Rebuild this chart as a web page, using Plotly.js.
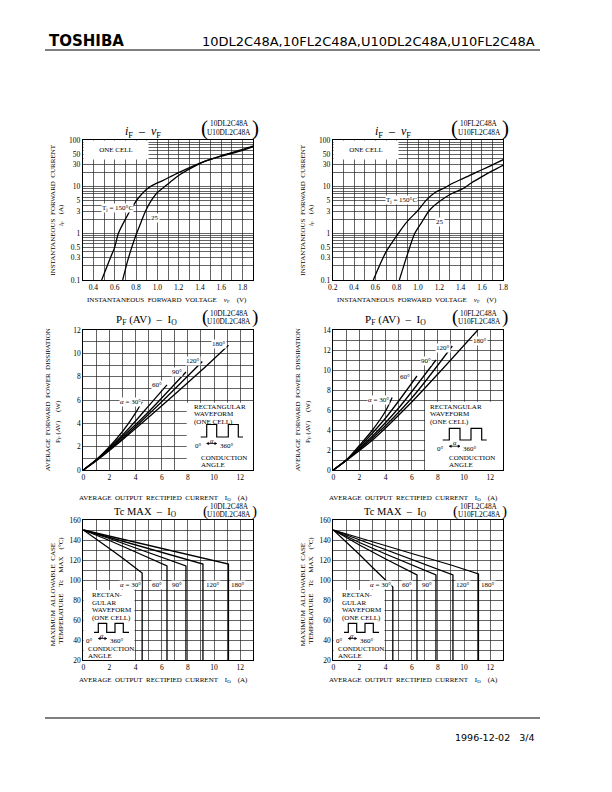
<!DOCTYPE html>
<html><head><meta charset="utf-8">
<script src="https://cdn.plot.ly/plotly-3.0.1.min.js"></script>
<style>html,body{margin:0;padding:0;background:#fff}#chart{width:612px;height:792px}</style>
</head><body><div id="chart"></div>
<script>
// ---------- DATA ----------
// iF - vF, 10DL2C48A
const vf_dl_150 = [0.478, 0.56, 0.60, 0.635, 0.70, 0.76, 0.83, 0.90, 0.95, 1.05, 1.20, 1.40, 1.60, 1.80, 1.90];
const if_dl_150 = [0.1, 0.3, 0.5, 1, 2, 3.5, 6, 8.8, 10.5, 13.5, 20, 32, 45, 60, 72];
const vf_dl_25 = [0.675, 0.72, 0.76, 0.806, 0.85, 0.894, 0.947, 1.0, 1.056, 1.12, 1.21, 1.37, 1.46, 1.60, 1.80, 1.90];
const if_dl_25 = [0.1, 0.25, 0.5, 1, 1.8, 3.16, 5.2, 7.5, 9.5, 12.5, 18, 29, 36, 46, 63, 75];
// iF - vF, 10FL2C48A
const vf_fl_150 = [0.581, 0.70, 0.816, 0.90, 1.003, 1.08, 1.16, 1.24, 1.33, 1.425, 1.55, 1.68, 1.80];
const if_fl_150 = [0.1, 0.4, 1, 1.8, 3.16, 5.2, 7.5, 9.2, 12, 15, 20.5, 28, 38];
const vf_fl_25 = [0.825, 0.90, 0.97, 1.04, 1.11, 1.20, 1.30, 1.425, 1.50, 1.60, 1.70, 1.80];
const if_fl_25 = [0.1, 0.35, 1, 1.8, 3.16, 4.8, 6.8, 9.2, 12, 16.4, 22, 29];
const logTickVals = [0.1,0.2,0.3,0.4,0.5,0.6,0.7,0.8,0.9,1,2,3,4,5,6,7,8,9,10,20,30,40,50,60,70,80,90,100];
const logTickText = ['0.1','','0.3','','0.5','','','','','1','','3','','5','','','','','10','','30','','50','','','','','100'];

// PF(AV) - IO, 10DL2C48A
const io_dl_30 = [0, 1, 2, 3, 4, 4.5];        const pf_dl_30 = [0, 0.9, 2.0, 3.3, 4.9, 5.85];
const io_dl_60 = [0, 1, 2, 3, 4, 5, 6.4];     const pf_dl_60 = [0, 0.85, 1.9, 3.0, 4.2, 5.5, 7.3];
const io_dl_90 = [0, 1, 3, 5, 7.85];          const pf_dl_90 = [0, 0.85, 2.85, 5.0, 8.4];
const io_dl_120 = [0, 1, 3, 6, 9.1];          const pf_dl_120 = [0, 0.85, 2.7, 5.85, 9.3];
const io_dl_180 = [0, 1, 3, 6, 9, 11.1];      const pf_dl_180 = [0, 0.8, 2.6, 5.5, 8.5, 10.7];
// PF(AV) - IO, 10FL2C48A
const io_fl_30 = [0, 1, 2, 3, 4, 4.5];        const pf_fl_30 = [0, 1.0, 2.45, 4.0, 5.9, 7.25];
const io_fl_60 = [0, 1, 2, 3, 4, 5, 6.4];     const pf_fl_60 = [0, 1.0, 2.3, 3.7, 5.2, 6.9, 9.4];
const io_fl_90 = [0, 1, 3, 5, 7.85];          const pf_fl_90 = [0, 1.0, 3.4, 6.2, 11.0];
const io_fl_120 = [0, 1, 3, 6, 9.1];          const pf_fl_120 = [0, 1.0, 3.2, 7.2, 12.4];
const io_fl_180 = [0, 1, 3, 6, 8, 11.05];     const pf_fl_180 = [0, 0.95, 3.0, 6.8, 9.6, 14.0];

// Tc MAX - IO, 10DL2C48A
const tio_dl_30 = [0, 1, 2, 3, 4, 4.5, 4.5];   const tc_dl_30 = [150, 141, 131.5, 122, 112, 107, 20];
const tio_dl_60 = [0, 2, 4, 6.4, 6.4];         const tc_dl_60 = [150, 139.5, 128, 114, 20];
const tio_dl_90 = [0, 2, 4, 6, 7.85, 7.85];    const tc_dl_90 = [150, 141.5, 132, 123, 114, 20];
const tio_dl_120 = [0, 3, 6, 9.15, 9.15];      const tc_dl_120 = [150, 139, 128, 116, 20];
const tio_dl_180 = [0, 3, 6, 9, 11.1, 11.1];   const tc_dl_180 = [150, 141, 132, 123, 116, 20];
// Tc MAX - IO, 10FL2C48A
const tio_fl_30 = [0, 1, 2, 3, 4, 4.55, 4.55]; const tc_fl_30 = [150, 138, 125.5, 112.5, 99.5, 93, 20];
const tio_fl_60 = [0, 2, 4, 6.4, 6.4];         const tc_fl_60 = [150, 135, 121, 105, 20];
const tio_fl_90 = [0, 2, 4, 6, 7.85, 7.85];    const tc_fl_90 = [150, 137.5, 126, 115, 105, 20];
const tio_fl_120 = [0, 3, 6, 9.15, 9.15];      const tc_fl_120 = [150, 135.5, 121, 105, 20];
const tio_fl_180 = [0, 3, 6, 9, 11.1, 11.1];   const tc_fl_180 = [150, 138, 126.5, 115, 106, 20];

const angleLabels = ['<i>α</i> = 30°', '60°', '90°', '120°', '180°'];

// ---------- LAYOUT HELPERS ----------
const W = 612, H = 792;
const SERIF = 'Liberation Serif, DejaVu Serif, serif';
const SANS = 'DejaVu Sans, Verdana, sans-serif';
const px = x => x / W, py = y => 1 - y / H;

const rects = [
  {L:82.7, R:253.3, T:140, B:280},
  {L:332.7, R:503.3, T:140, B:280},
  {L:83.3, R:253.3, T:330, B:470},
  {L:333.3, R:503.3, T:330, B:470},
  {L:83.3, R:253.3, T:520, B:660},
  {L:333.3, R:503.3, T:520, B:660}
];
const GRID = '#222';
function axis(i, isX, o) {
  const r = rects[i];
  const base = {
    domain: isX ? [px(r.L), px(r.R)] : [py(r.B), py(r.T)],
    anchor: (isX ? 'y' : 'x') + (i === 0 ? '' : (i + 1)),
    showline: true, linecolor: '#000', linewidth: 1, mirror: true,
    ticks: '', showgrid: true, gridcolor: GRID, gridwidth: 0.7, zeroline: false,
    tickfont: {family: SERIF, size: 7.5, color: '#000'}, fixedrange: true
  };
  return Object.assign(base, o);
}
const minorGrid = d => ({dtick: d, showgrid: true, gridcolor: GRID, gridwidth: 0.7, ticks: ''});

const layout = {
  width: W, height: H, margin: {l:0, r:0, t:0, b:0},
  paper_bgcolor: '#fff', plot_bgcolor: '#fff', showlegend: false,
  xaxis: axis(0, true, {range:[0.3,1.9], tick0:0.4, dtick:0.2, tickformat:'.1f', minor: minorGrid(0.1)}),
  yaxis: axis(0, false, {type:'log', range:[-1,2], tickmode:'array', tickvals: logTickVals, ticktext: logTickText}),
  xaxis2: axis(1, true, {range:[0.2,1.8], tick0:0.2, dtick:0.2, tickformat:'.1f', minor: minorGrid(0.1)}),
  yaxis2: axis(1, false, {type:'log', range:[-1,2], tickmode:'array', tickvals: logTickVals, ticktext: logTickText}),
  xaxis3: axis(2, true, {range:[0,13], tick0:0, dtick:2, minor: minorGrid(1)}),
  yaxis3: axis(2, false, {range:[0,12], tick0:0, dtick:2, minor: minorGrid(1)}),
  xaxis4: axis(3, true, {range:[0,13], tick0:0, dtick:2, minor: minorGrid(1)}),
  yaxis4: axis(3, false, {range:[0,14], tick0:0, dtick:2, minor: minorGrid(1)}),
  xaxis5: axis(4, true, {range:[0,13], tick0:0, dtick:2, minor: minorGrid(1)}),
  yaxis5: axis(4, false, {range:[20,160], tick0:20, dtick:20, minor: minorGrid(10)}),
  xaxis6: axis(5, true, {range:[0,13], tick0:0, dtick:2, minor: minorGrid(1)}),
  yaxis6: axis(5, false, {range:[20,160], tick0:20, dtick:20, minor: minorGrid(10)}),
  shapes: [], annotations: []
};

// ---------- TRACES ----------
const traces = [];
function addLine(i, xs, ys, smooth) {
  const s = i === 0 ? '' : String(i + 1);
  traces.push({x: xs, y: ys, xaxis: 'x' + s, yaxis: 'y' + s, mode: 'lines', hoverinfo: 'skip',
    line: {color: '#000', width: 1.3, shape: smooth ? 'spline' : 'linear', smoothing: 0.8}});
}
addLine(0, vf_dl_150, if_dl_150, true); addLine(0, vf_dl_25, if_dl_25, true);
addLine(1, vf_fl_150, if_fl_150, true); addLine(1, vf_fl_25, if_fl_25, true);
addLine(2, io_dl_30, pf_dl_30, true); addLine(2, io_dl_60, pf_dl_60, true); addLine(2, io_dl_90, pf_dl_90, true);
addLine(2, io_dl_120, pf_dl_120, true); addLine(2, io_dl_180, pf_dl_180, true);
addLine(3, io_fl_30, pf_fl_30, true); addLine(3, io_fl_60, pf_fl_60, true); addLine(3, io_fl_90, pf_fl_90, true);
addLine(3, io_fl_120, pf_fl_120, true); addLine(3, io_fl_180, pf_fl_180, true);
addLine(4, tio_dl_30, tc_dl_30, false); addLine(4, tio_dl_60, tc_dl_60, false); addLine(4, tio_dl_90, tc_dl_90, false);
addLine(4, tio_dl_120, tc_dl_120, false); addLine(4, tio_dl_180, tc_dl_180, false);
addLine(5, tio_fl_30, tc_fl_30, false); addLine(5, tio_fl_60, tc_fl_60, false); addLine(5, tio_fl_90, tc_fl_90, false);
addLine(5, tio_fl_120, tc_fl_120, false); addLine(5, tio_fl_180, tc_fl_180, false);

// ---------- DECORATION ----------
const A = layout.annotations, S = layout.shapes;
function T(x, y, text, o) {
  A.push(Object.assign({xref:'paper', yref:'paper', x: px(x), y: py(y), text: text, showarrow: false,
    font: {family: SERIF, size: 7, color: '#000'}, xanchor: 'center', yanchor: 'middle'}, o || {}));
}
// white panel over the grid (linear subplots), pixel box -> data coordinates
function whiteBox(i, x0, x1, y0, y1) {
  const r = rects[i], s = i === 0 ? '' : String(i + 1);
  const xa = layout['xaxis' + s], ya = layout['yaxis' + s];
  const fx = v => xa.range[0] + (v - r.L) / (r.R - r.L) * (xa.range[1] - xa.range[0]);
  const fy = v => ya.range[0] + (r.B - v) / (r.B - r.T) * (ya.range[1] - ya.range[0]);
  S.push({type:'rect', layer:'between', xref:'x' + s, yref:'y' + s,
    x0: fx(x0), x1: fx(x1), y0: fy(y1), y1: fy(y0),
    fillcolor: '#fff', line: {width: 0}});
}
function pathP(pts) { return 'M' + pts.map(p => px(p[0]) + ',' + py(p[1])).join('L'); }
function P(pts, o) { S.push(Object.assign({type:'path', xref:'paper', yref:'paper', layer:'above', path: pathP(pts), line:{color:'#000', width:1}}, o || {})); }
function waveform(x0, xr1, xf1, xr2, xf2, xe, yb, yt, labY) {
  P([[x0,yb],[xr1,yb],[xr1,yt],[xf1,yt],[xf1,yb],[xr2,yb],[xr2,yt],[xf2,yt],[xf2,yb],[xe,yb]], {line:{color:'#000', width:1.2}});
  const ay = labY - 1.5;
  P([[xr1, ay], [xf1, ay]], {line:{color:'#000', width:0.8}});
  P([[xr1, ay], [xr1 + 2, ay - 1.2], [xr1 + 2, ay + 1.2], [xr1, ay]], {fillcolor:'#000', line:{color:'#000', width:0.5}});
  P([[xf1, ay], [xf1 - 2, ay - 1.2], [xf1 - 2, ay + 1.2], [xf1, ay]], {fillcolor:'#000', line:{color:'#000', width:0.5}});
  T((xr1 + xf1) / 2, ay - 3.5, '<i>α</i>', {font:{family:SERIF, size:6.5, color:'#000'}});
  T(xr1 - 3, labY + 1, '0°', {xanchor:'right', font:{family:SERIF, size:7, color:'#000'}});
  T(xf1 + 1, labY + 1, '360°', {xanchor:'left', font:{family:SERIF, size:7, color:'#000'}});
}
function partLabel(cx, y1, y2, l1, l2, pl, pr, pyc, psz) {
  T(cx, y1, l1, {font:{family:SERIF, size:7.3, color:'#000'}});
  T(cx, y2, l2, {font:{family:SERIF, size:7.3, color:'#000'}});
  T(pl, pyc, '(', {font:{family:SERIF, size:psz, color:'#000'}});
  T(pr, pyc, ')', {font:{family:SERIF, size:psz, color:'#000'}});
}

// header / footer
T(47, 41, '<b>TOSHIBA</b>', {xanchor:'left', font:{family:'DejaVu Sans, sans-serif', size:15, color:'#000'}});
T(537, 41, '10DL2C48A,10FL2C48A,U10DL2C48A,U10FL2C48A', {xanchor:'right', font:{family:SANS, size:13, color:'#000'}});
S.push({type:'line', xref:'paper', yref:'paper', x0:px(45), x1:px(540), y0:py(50), y1:py(50), line:{color:'#000', width:1.2}});
S.push({type:'line', xref:'paper', yref:'paper', x0:px(45), x1:px(540), y0:py(718), y1:py(718), line:{color:'#000', width:1.2}});
T(537, 737, '1996-12-02   3/4', {xanchor:'right', font:{family:SANS, size:9.5, color:'#000'}});

// per-column decorations
const names = [['10DL2C48A','U10DL2C48A'], ['10FL2C48A','U10FL2C48A']];
[0, 1].forEach(c => {
  const ox = c * 250, n = names[c];
  // ---- iF - vF ----
  T(143.3 + ox, 131.5, '<i>i</i><sub>F</sub>  –  <i>v</i><sub>F</sub>', {font:{family:SERIF, size:12, color:'#000'}});
  partLabel(229.2 + ox, 123.3, 132.5, n[0], n[1], 204 + ox, 255 + ox, 128, 21);
  T(rects[c].L, 140, 'ONE CELL', {xanchor:'left', yanchor:'top', width: 146.7 - 82.7, height: 18,
    bgcolor:'#fff', borderpad:0, align:'center', valign:'middle'});
  T(52.7 + ox, 210, 'INSTANTANEOUS  FORWARD  CURRENT', {textangle:-90});
  T(61 + ox, 215, '<i>i</i><sub>F</sub>    (A)', {textangle:-90});
  T(166.7 + ox, 300, 'INSTANTANEOUS  FORWARD  VOLTAGE    <i>v</i><sub>F</sub>    (V)');
  // ---- PF - IO ----
  T((c ? 395 : 146.7), 320, 'P<sub>F</sub> (AV)  –  I<sub>O</sub>', {font:{family:SERIF, size:11, color:'#000'}});
  partLabel(229.2 + ox, 313.3, 321.5, n[0], n[1], 205 + ox, 255 + ox, 317, 19);
  T(48.3 + ox, 400, 'AVERAGE  FORWARD  POWER  DISSIPATION', {textangle:-90});
  T(58 + ox, 422, 'P<sub>F</sub> (AV)     (W)', {textangle:-90});
  T(163.3 + ox, 497.7, 'AVERAGE  OUTPUT  RECTIFIED  CURRENT    I<sub>O</sub>    (A)');
  // ---- Tc - IO ----
  T(145 + ox, 512.7, 'Tc MAX  –  I<sub>O</sub>', {font:{family:SERIF, size:10.5, color:'#000'}});
  partLabel(229.2 + ox, 506.3, 514.5, n[0], n[1], 205.5 + ox, 254.5 + ox, 511, 15);
  T(53.3 + ox, 595, 'MAXIMUM  ALLOWABLE  CASE', {textangle:-90});
  T(60.7 + ox, 590, 'TEMPERATURE    Tc    MAX    (°C)', {textangle:-90});
  T(163.3 + ox, 680, 'AVERAGE  OUTPUT  RECTIFIED  CURRENT    I<sub>O</sub>    (A)');
  whiteBox(4 + c, rects[4 + c].L, 134.5 + ox, 590, 660);
  T(90 + ox, 595, 'RECTAN-', {xanchor:'left'});
  T(90 + ox, 602.7, 'GULAR', {xanchor:'left'});
  T(90 + ox, 610, 'WAVEFORM', {xanchor:'left'});
  T(90 + ox, 617.7, '(ONE CELL)', {xanchor:'left'});
  waveform(94 + ox, 98.3 + ox, 106.7 + ox, 115 + ox, 123.3 + ox, 129 + ox, 632.3, 623.3, 640);
  T(86 + ox, 649, 'CONDUCTION', {xanchor:'left'});
  T(86 + ox, 655.7, 'ANGLE', {xanchor:'left'});
  const tcx = [130, 157.3, 176.7, 213.3, 238.3];
  tcx.forEach((x, k) => T(x + ox, 585, angleLabels[k], {bgcolor:'#fff', borderpad:0}));
});

// iF curve labels
T(117.3, 208, 'T<sub>j</sub> = 150°C', {bgcolor:'#fff', borderpad:0});
T(155, 218.3, '25', {bgcolor:'#fff', borderpad:0});
T(401, 200, 'T<sub>j</sub> = 150°C', {bgcolor:'#fff', borderpad:0});
T(440, 221.7, '25', {bgcolor:'#fff', borderpad:0});

// PF DL labels + box
[[130,402.3],[156.7,385],[176.7,371.7],[192.7,361],[219,344.3]].forEach((p,k) => T(p[0], p[1], angleLabels[k], {bgcolor:'#fff', borderpad:0}));
whiteBox(2, 186.7, rects[2].R, 402.7, 470);
T(191.7, 406.5, 'RECTANGULAR', {xanchor:'left'});
T(191.7, 414, 'WAVEFORM', {xanchor:'left'});
T(191.7, 422.5, '(ONE CELL)', {xanchor:'left'});
waveform(200.7, 206.7, 216.7, 228.3, 238.3, 243, 437, 424.5, 445);
T(199.3, 458.3, 'CONDUCTION', {xanchor:'left'});
T(199.3, 465, 'ANGLE', {xanchor:'left'});

// PF FL labels + box
[[378.3,400],[405,376.7],[426,361],[442.7,347.7],[480,341]].forEach((p,k) => T(p[0], p[1], angleLabels[k], {bgcolor:'#fff', borderpad:0}));
whiteBox(3, 425, rects[3].R, 401.7, 470);
T(428.3, 406.5, 'RECTANGULAR', {xanchor:'left'});
T(428.3, 414, 'WAVEFORM', {xanchor:'left'});
T(428.3, 422.5, '(ONE CELL)', {xanchor:'left'});
waveform(442.7, 449.3, 460, 471, 481.7, 486.7, 440, 428.3, 447.7);
T(446.7, 458.3, 'CONDUCTION', {xanchor:'left'});
T(446.7, 465, 'ANGLE', {xanchor:'left'});

Plotly.newPlot('chart', traces, layout, {staticPlot: true, displayModeBar: false});
</script></body></html>
